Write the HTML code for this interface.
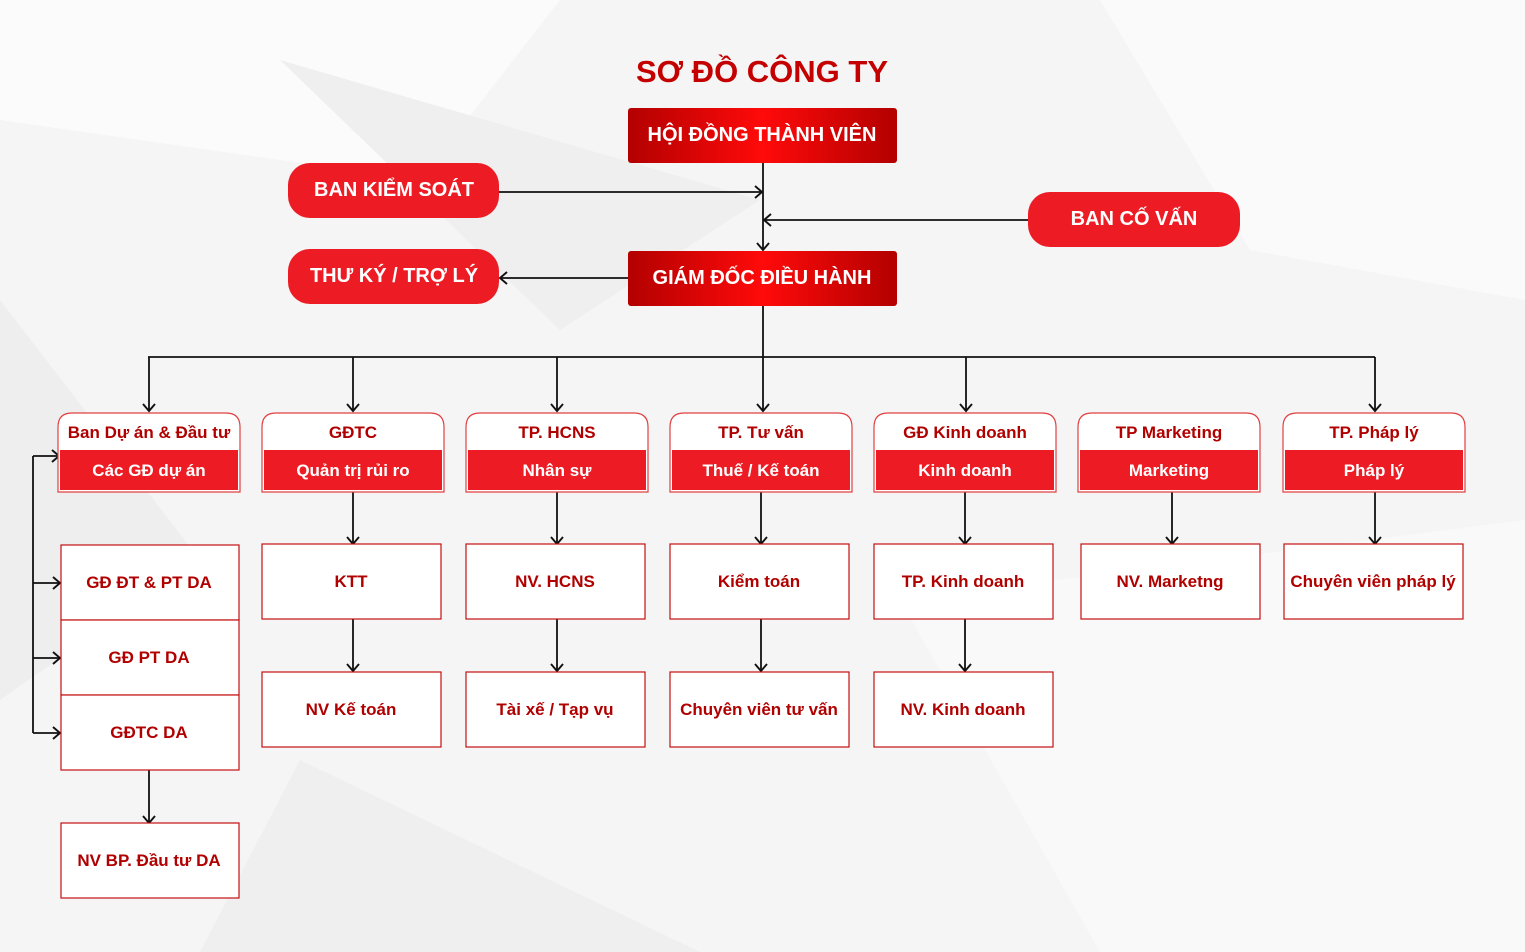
<!DOCTYPE html>
<html><head><meta charset="utf-8"><style>
html,body{margin:0;padding:0;width:1525px;height:952px;overflow:hidden;background:#f6f6f6}
svg{display:block}
text{font-family:"Liberation Sans",sans-serif;font-weight:bold;text-anchor:middle}
</style></head><body>
<svg width="1525" height="952" viewBox="0 0 1525 952" xmlns="http://www.w3.org/2000/svg">
<defs>
<marker id="a" markerWidth="16" markerHeight="16" refX="12" refY="8" orient="auto" markerUnits="userSpaceOnUse">
<polyline points="5,2 12,8 5,14" fill="none" stroke="#111" stroke-width="1.9"/>
</marker>
<linearGradient id="g" x1="0" x2="1" y1="0" y2="0">
<stop offset="0" stop-color="#b30000"/><stop offset="0.5" stop-color="#ff0a0a"/><stop offset="1" stop-color="#b30000"/>
</linearGradient>
</defs>
<rect width="1525" height="952" fill="#f5f5f5"/>
<polygon points="0,0 560,0 420,180 0,120" fill="#fbfbfb"/>
<polygon points="280,60 760,200 560,330" fill="#efefef"/>
<polygon points="1100,0 1525,0 1525,300 1250,250" fill="#fafafa"/>
<polygon points="0,300 200,560 0,700" fill="#eeeeee"/>
<polygon points="900,600 1525,520 1525,952 1100,952" fill="#f9f9f9"/>
<polygon points="300,760 700,952 200,952" fill="#efefef"/>

<text x="762" y="82" font-size="31" fill="#c40000">SƠ ĐỒ CÔNG TY</text>

<g stroke="#111" stroke-width="1.8" fill="none">
<line x1="763" y1="163" x2="763" y2="250" marker-end="url(#a)"/>
<line x1="499" y1="192" x2="762" y2="192" marker-end="url(#a)"/>
<line x1="1028" y1="220" x2="764" y2="220" marker-end="url(#a)"/>
<line x1="628" y1="278" x2="500" y2="278" marker-end="url(#a)"/>
<line x1="763" y1="306" x2="763" y2="411" marker-end="url(#a)"/>
<line x1="148" y1="357" x2="1375" y2="357"/>
<line x1="149" y1="357" x2="149" y2="411" marker-end="url(#a)"/>
<line x1="353" y1="357" x2="353" y2="411" marker-end="url(#a)"/>
<line x1="557" y1="357" x2="557" y2="411" marker-end="url(#a)"/>
<line x1="966" y1="357" x2="966" y2="411" marker-end="url(#a)"/>
<line x1="1375" y1="357" x2="1375" y2="411" marker-end="url(#a)"/>
<line x1="33" y1="456" x2="33" y2="733"/>
<line x1="33" y1="456" x2="59" y2="456" marker-end="url(#a)"/>
<line x1="33" y1="583" x2="60" y2="583" marker-end="url(#a)"/>
<line x1="33" y1="658" x2="60" y2="658" marker-end="url(#a)"/>
<line x1="33" y1="733" x2="60" y2="733" marker-end="url(#a)"/>
<line x1="149" y1="770" x2="149" y2="823" marker-end="url(#a)"/>
<line x1="353" y1="492" x2="353" y2="544" marker-end="url(#a)"/>
<line x1="557" y1="492" x2="557" y2="544" marker-end="url(#a)"/>
<line x1="761" y1="492" x2="761" y2="544" marker-end="url(#a)"/>
<line x1="965" y1="492" x2="965" y2="544" marker-end="url(#a)"/>
<line x1="1172" y1="492" x2="1172" y2="544" marker-end="url(#a)"/>
<line x1="1375" y1="492" x2="1375" y2="544" marker-end="url(#a)"/>
<line x1="353" y1="619" x2="353" y2="671" marker-end="url(#a)"/>
<line x1="557" y1="619" x2="557" y2="671" marker-end="url(#a)"/>
<line x1="761" y1="619" x2="761" y2="671" marker-end="url(#a)"/>
<line x1="965" y1="619" x2="965" y2="671" marker-end="url(#a)"/>
</g>

<rect x="628" y="108" width="269" height="55" rx="3" fill="url(#g)"/>
<text x="762" y="141" font-size="20" fill="#fff">HỘI ĐỒNG THÀNH VIÊN</text>
<rect x="628" y="251" width="269" height="55" rx="3" fill="url(#g)"/>
<text x="762" y="284" font-size="20" fill="#fff">GIÁM ĐỐC ĐIỀU HÀNH</text>
<rect x="288" y="163" width="211" height="55" rx="22" fill="#ed1c24"/>
<text x="394" y="196" font-size="20" fill="#fff">BAN KIỂM SOÁT</text>
<rect x="288" y="249" width="211" height="55" rx="22" fill="#ed1c24"/>
<text x="394" y="282" font-size="20" fill="#fff">THƯ KÝ / TRỢ LÝ</text>
<rect x="1028" y="192" width="212" height="55" rx="22" fill="#ed1c24"/>
<text x="1134" y="225" font-size="20" fill="#fff">BAN CỐ VẤN</text>

<g font-size="17">
<g>
<path d="M58,492 V427 Q58,413 72,413 H226 Q240,413 240,427 V492 Z" fill="#fff" stroke="#e04040" stroke-width="1.2"/>
<rect x="60" y="450" width="178" height="40" fill="#ed1c24"/>
<text x="149" y="438" fill="#b00000">Ban Dự án &amp; Đầu tư</text>
<text x="149" y="476" fill="#fff">Các GĐ dự án</text>
</g>
<g>
<path d="M262,492 V427 Q262,413 276,413 H430 Q444,413 444,427 V492 Z" fill="#fff" stroke="#e04040" stroke-width="1.2"/>
<rect x="264" y="450" width="178" height="40" fill="#ed1c24"/>
<text x="353" y="438" fill="#b00000">GĐTC</text>
<text x="353" y="476" fill="#fff">Quản trị rủi ro</text>
</g>
<g>
<path d="M466,492 V427 Q466,413 480,413 H634 Q648,413 648,427 V492 Z" fill="#fff" stroke="#e04040" stroke-width="1.2"/>
<rect x="468" y="450" width="178" height="40" fill="#ed1c24"/>
<text x="557" y="438" fill="#b00000">TP. HCNS</text>
<text x="557" y="476" fill="#fff">Nhân sự</text>
</g>
<g>
<path d="M670,492 V427 Q670,413 684,413 H838 Q852,413 852,427 V492 Z" fill="#fff" stroke="#e04040" stroke-width="1.2"/>
<rect x="672" y="450" width="178" height="40" fill="#ed1c24"/>
<text x="761" y="438" fill="#b00000">TP. Tư vấn</text>
<text x="761" y="476" fill="#fff">Thuế / Kế toán</text>
</g>
<g>
<path d="M874,492 V427 Q874,413 888,413 H1042 Q1056,413 1056,427 V492 Z" fill="#fff" stroke="#e04040" stroke-width="1.2"/>
<rect x="876" y="450" width="178" height="40" fill="#ed1c24"/>
<text x="965" y="438" fill="#b00000">GĐ Kinh doanh</text>
<text x="965" y="476" fill="#fff">Kinh doanh</text>
</g>
<g>
<path d="M1078,492 V427 Q1078,413 1092,413 H1246 Q1260,413 1260,427 V492 Z" fill="#fff" stroke="#e04040" stroke-width="1.2"/>
<rect x="1080" y="450" width="178" height="40" fill="#ed1c24"/>
<text x="1169" y="438" fill="#b00000">TP Marketing</text>
<text x="1169" y="476" fill="#fff">Marketing</text>
</g>
<g>
<path d="M1283,492 V427 Q1283,413 1297,413 H1451 Q1465,413 1465,427 V492 Z" fill="#fff" stroke="#e04040" stroke-width="1.2"/>
<rect x="1285" y="450" width="178" height="40" fill="#ed1c24"/>
<text x="1374" y="438" fill="#b00000">TP. Pháp lý</text>
<text x="1374" y="476" fill="#fff">Pháp lý</text>
</g>

<g fill="#fff" stroke="#c41010" stroke-width="1.2">
<rect x="61" y="545" width="178" height="75"/>
<rect x="61" y="620" width="178" height="75"/>
<rect x="61" y="695" width="178" height="75"/>
<rect x="61" y="823" width="178" height="75"/>
<rect x="262" y="544" width="179" height="75"/>
<rect x="466" y="544" width="179" height="75"/>
<rect x="670" y="544" width="179" height="75"/>
<rect x="874" y="544" width="179" height="75"/>
<rect x="1081" y="544" width="179" height="75"/>
<rect x="1284" y="544" width="179" height="75"/>
<rect x="262" y="672" width="179" height="75"/>
<rect x="466" y="672" width="179" height="75"/>
<rect x="670" y="672" width="179" height="75"/>
<rect x="874" y="672" width="179" height="75"/>
</g>
<g fill="#b00000">
<text x="149" y="588">GĐ ĐT &amp; PT DA</text>
<text x="149" y="663">GĐ PT DA</text>
<text x="149" y="738">GĐTC DA</text>
<text x="149" y="866">NV BP. Đầu tư DA</text>
<text x="351" y="587">KTT</text>
<text x="555" y="587">NV. HCNS</text>
<text x="759" y="587">Kiểm toán</text>
<text x="963" y="587">TP. Kinh doanh</text>
<text x="1170" y="587">NV. Marketng</text>
<text x="1373" y="587">Chuyên viên pháp lý</text>
<text x="351" y="715">NV Kế toán</text>
<text x="555" y="715">Tài xế / Tạp vụ</text>
<text x="759" y="715">Chuyên viên tư vấn</text>
<text x="963" y="715">NV. Kinh doanh</text>
</g>
</g>
</svg>
</body></html>
